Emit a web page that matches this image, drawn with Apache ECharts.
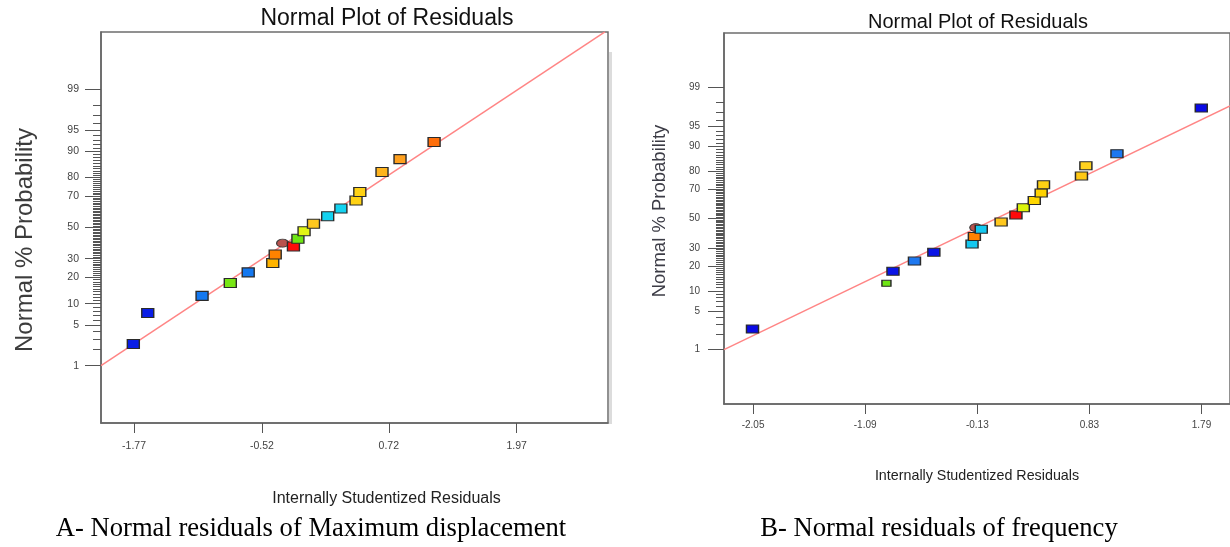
<!DOCTYPE html>
<html>
<head>
<meta charset="utf-8">
<script src="https://cdn.jsdelivr.net/npm/echarts@6/dist/echarts.min.js"></script>
<style>
  html, body { margin: 0; padding: 0; background: #ffffff; }
  #main { width: 1230px; height: 547px; }
</style>
</head>
<body>
<div id="main"></div>
<script>
// ---- Panel A: Maximum displacement ----
const residA = [-1.777, -1.636, -1.105, -0.829, -0.654, -0.414, -0.390, -0.212, -0.168,
                -0.108, -0.016, 0.123, 0.252, 0.400, 0.437, 0.654, 0.830, 1.163];
const probA  = [2.5, 7.5, 12.5, 17.5, 22.5, 27.5, 32.5, 37.5, 42.5,
                47.5, 52.5, 57.5, 62.5, 67.5, 72.5, 82.5, 87.5, 92.5];
const colorsA = ['#0a1ee6', '#0a1ee6', '#1478f0', '#78e614', '#1478f0', '#ffb400', '#ff8200', '#ff0a0a', '#6ee614',
                 '#e1f514', '#ffc81e', '#14d2f0', '#14d2f0', '#ffd214', '#ffd214', '#ffb41e', '#ffa01e', '#ff6e0a'];
const selA = { resid: [-0.318], prob: [39.6] };
const fitLineA = { resid: [-2.093, 2.833], prob: [1.0, 99.95] };
const xTicksA = [-1.77, -0.52, 0.72, 1.97];

// ---- Panel B: frequency ----
const residB = [-2.055, -0.908, -0.852, -0.668, -0.502, -0.175, -0.155, -0.096, 0.074,
                0.201, 0.264, 0.358, 0.417, 0.437, 0.762, 0.800, 1.066, 1.788];
const probB  = [2.5, 12.5, 17.5, 22.5, 27.5, 32.5, 37.5, 42.5, 47.5,
                52.5, 57.5, 62.5, 67.5, 72.5, 77.5, 82.5, 87.5, 97.5];
const colorsB = ['#0a0ae6', '#6ee614', '#0a14e6', '#1e78f0', '#0a14e6', '#14c8f0', '#ff8200', '#14c8f0', '#ffc81e',
                 '#ff0a0a', '#dcf50a', '#ffd700', '#ffd200', '#ffd214', '#ffc814', '#ffd21e', '#1e78f0', '#0a0ae6'];
const selB = { resid: [-0.143], prob: [43.6] };
const fitLineB = { resid: [-2.299, 2.034], prob: [1.0, 97.7] };
const xTicksB = [-2.05, -1.09, -0.13, 0.83, 1.79];

// ---- Probability axis ticks (normal % probability) ----
const probTickLabels = [1, 5, 10, 20, 30, 50, 70, 80, 90, 95, 99];

// Inverse standard normal CDF (Acklam), input in percent
function probit(pct) {
  const p = pct / 100;
  const a = [-3.969683028665376e+01, 2.209460984245205e+02, -2.759285104469687e+02, 1.383577518672690e+02, -3.066479806614716e+01, 2.506628277459239e+00];
  const b = [-5.447609879822406e+01, 1.615858368580409e+02, -1.556989798598866e+02, 6.680131188771972e+01, -1.328068155288572e+01];
  const c = [-7.784894002430293e-03, -3.223964580411365e-01, -2.400758277161838e+00, -2.549671348283443e+00, 4.374664141464968e+00, 2.938163982698783e+00];
  const d = [7.784695709041462e-03, 3.224671290700398e-01, 2.445134137142996e+00, 3.754408661907416e+00];
  const pl = 0.02425, ph = 1 - pl;
  let q, r;
  if (p < pl) {
    q = Math.sqrt(-2 * Math.log(p));
    return (((((c[0]*q+c[1])*q+c[2])*q+c[3])*q+c[4])*q+c[5]) / ((((d[0]*q+d[1])*q+d[2])*q+d[3])*q+1);
  }
  if (p > ph) {
    q = Math.sqrt(-2 * Math.log(1 - p));
    return -(((((c[0]*q+c[1])*q+c[2])*q+c[3])*q+c[4])*q+c[5]) / ((((d[0]*q+d[1])*q+d[2])*q+d[3])*q+1);
  }
  q = p - 0.5; r = q * q;
  return (((((a[0]*r+a[1])*r+a[2])*r+a[3])*r+a[4])*r+a[5])*q / (((((b[0]*r+b[1])*r+b[2])*r+b[3])*r+b[4])*r+1);
}

const majorZ = probTickLabels.map(probit);
const minorZ = [];
for (let k = 2; k <= 98; k++) if (probTickLabels.indexOf(k) < 0) minorZ.push(probit(k));
const Z_RANGE = 3.29;

const SANS = '"Liberation Sans", Arial, sans-serif';
const SERIF = '"Liberation Serif", "Times New Roman", serif';

const panels = [
  { resid: residA, prob: probA, colors: colorsA, sel: selA, fit: fitLineA, xTicks: xTicksA,
    grid: { left: 101, top: 32, width: 507, height: 391 }, xMin: -2.093, xMax: 2.863,
    tickFont: 10.5, labelMarginY: 22, labelMarginX: 18, markSize: [12, 9], smallMarks: [] },
  { resid: residB, prob: probB, colors: colorsB, sel: selB, fit: fitLineB, xTicks: xTicksB,
    grid: { left: 724, top: 33, width: 510, height: 371 }, xMin: -2.299, xMax: 2.034,
    tickFont: 10, labelMarginY: 24, labelMarginX: 16, markSize: [12, 8], smallMarks: [1] }
];

const grids = [], xAxes = [], yAxes = [], series = [];
panels.forEach((pn, i) => {
  grids.push(Object.assign({ show: true, borderColor: '#6e6e6e', borderWidth: 1.5, backgroundColor: '#ffffff' }, pn.grid));
  xAxes.push({
    type: 'value', gridIndex: i, min: pn.xMin, max: pn.xMax,
    axisLine: { show: true, onZero: false, lineStyle: { color: '#666', width: 1.5 } },
    axisTick: { show: true, length: 10, customValues: pn.xTicks, lineStyle: { color: '#555', width: 1 } },
    axisLabel: { show: true, customValues: pn.xTicks, margin: pn.labelMarginX, color: '#444',
                 fontFamily: SANS, fontSize: pn.tickFont, formatter: v => v.toFixed(2) },
    splitLine: { show: false }
  });
  // major probability ticks with labels
  yAxes.push({
    type: 'value', gridIndex: i, min: -Z_RANGE, max: Z_RANGE, position: 'left',
    axisLine: { show: true, onZero: false, lineStyle: { color: '#666', width: 1.5 } },
    axisTick: { show: true, length: 16, customValues: majorZ, lineStyle: { color: '#555', width: 1 } },
    axisLabel: { show: true, customValues: majorZ, margin: pn.labelMarginY, color: '#444',
                 fontFamily: SANS, fontSize: pn.tickFont,
                 formatter: v => {
                   let best = 0;
                   majorZ.forEach((z, k) => { if (Math.abs(z - v) < Math.abs(majorZ[best] - v)) best = k; });
                   return String(probTickLabels[best]);
                 } },
    splitLine: { show: false }
  });
  // minor probability ticks (every whole percent)
  yAxes.push({
    type: 'value', gridIndex: i, min: -Z_RANGE, max: Z_RANGE, position: 'left',
    axisLine: { show: false, onZero: false },
    axisTick: { show: true, length: 8, customValues: minorZ, lineStyle: { color: '#555', width: 1 } },
    axisLabel: { show: false },
    splitLine: { show: false }
  });
  const yIdx = i * 2;
  series.push({
    type: 'line', xAxisIndex: i, yAxisIndex: yIdx, silent: true, symbol: 'none', clip: true, z: 2,
    lineStyle: { color: '#ff8585', width: 1.5 },
    data: pn.fit.resid.map((x, k) => [x, probit(pn.fit.prob[k])])
  });
  series.push({
    type: 'scatter', xAxisIndex: i, yAxisIndex: yIdx, silent: true, symbol: 'circle', symbolSize: [12, 8], z: 3,
    itemStyle: { color: '#b8524e', borderColor: '#3a3a3a', borderWidth: 1, opacity: 1 },
    data: pn.sel.resid.map((x, k) => [x, probit(pn.sel.prob[k])])
  });
  series.push({
    type: 'scatter', xAxisIndex: i, yAxisIndex: yIdx, silent: true, symbol: 'rect', z: 4,
    symbolSize: pn.markSize,
    itemStyle: { borderColor: '#2a2a2a', borderWidth: 1.2, opacity: 1 },
    data: pn.resid.map((x, k) => ({
      value: [x, probit(pn.prob[k])],
      symbolSize: pn.smallMarks.indexOf(k) >= 0 ? [9, 6] : pn.markSize,
      itemStyle: { color: pn.colors[k], opacity: 1 }
    }))
  });
});

function label(text, x, y, font, color, rot) {
  return {
    type: 'text', x: x, y: y, rotation: rot || 0, silent: true,
    style: { text: text, font: font, fill: color, align: 'center', verticalAlign: 'middle',
             textAlign: 'center', textVerticalAlign: 'middle' }
  };
}

const chart = echarts.init(document.getElementById('main'), null, { renderer: 'canvas' });
chart.setOption({
  backgroundColor: '#ffffff',
  animation: false,
  grid: grids,
  xAxis: xAxes,
  yAxis: yAxes,
  series: series,
  graphic: [
    // soft shadow along the right edge of the first frame
    { type: 'rect', silent: true, z: -1, shape: { x: 609, y: 52, width: 3, height: 372 }, style: { fill: '#dcdcdc' } },
    label('Normal Plot of Residuals', 387, 19, '23px ' + SANS, '#111'),
    label('Normal Plot of Residuals', 978, 22, '20px ' + SANS, '#111'),
    label('Normal % Probability', 25, 240, '24px ' + SANS, '#3c3c3c', Math.PI / 2),
    label('Normal % Probability', 660, 211, '18.5px ' + SANS, '#3c3c46', Math.PI / 2),
    label('Internally Studentized Residuals', 386.5, 499, '16px ' + SANS, '#222'),
    label('Internally Studentized Residuals', 977, 476, '14.3px ' + SANS, '#222'),
    label('A- Normal residuals of Maximum displacement', 311, 529, '26.6px ' + SERIF, '#000'),
    label('B- Normal residuals of frequency', 939, 529, '26.6px ' + SERIF, '#000')
  ]
});
</script>
</body>
</html>
